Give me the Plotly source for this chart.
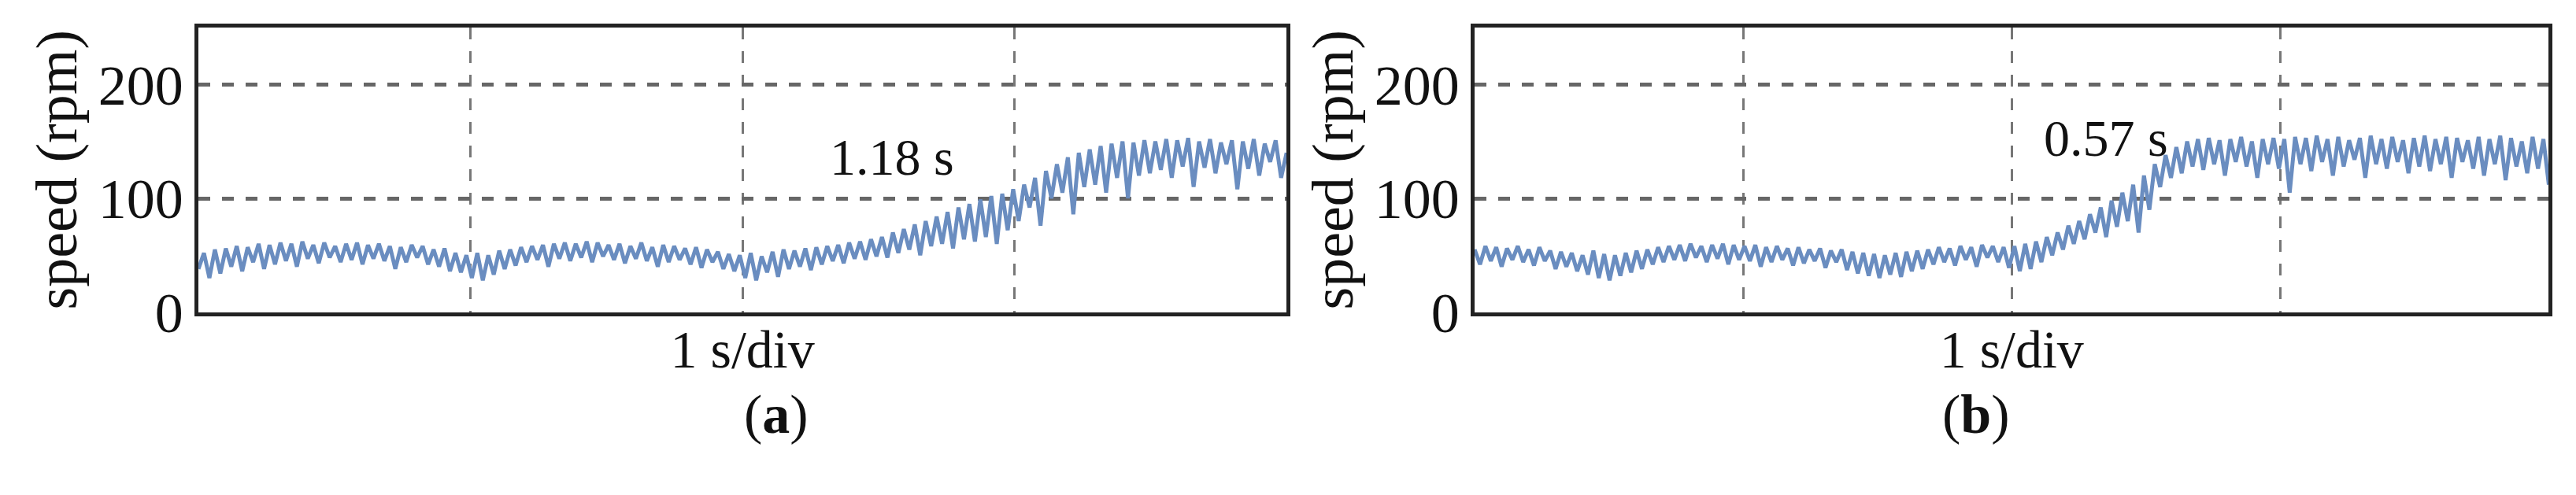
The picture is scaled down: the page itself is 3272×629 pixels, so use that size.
import numpy as np
import plotly.graph_objects as go

speed_a = [38,52,30,55,34,56,40,58,36,57,44,60,38,59,42,61,45,60,40,62,47,59,43,61,48,
 58,44,60,46,61,42,59,47,60,45,58,38,57,44,59,48,58,42,55,40,56,36,52,35,50,
 30,52,28,50,33,54,38,55,41,57,44,58,46,59,40,60,47,61,45,60,48,62,44,61,49,
 59,46,60,43,58,47,61,45,57,40,59,44,58,46,56,42,57,39,55,44,53,38,51,36,50,
 30,52,28,49,35,53,31,55,38,54,40,56,37,57,42,58,45,59,43,61,47,62,46,64,49,
 66,48,70,52,73,55,77,50,80,58,84,60,88,56,92,64,95,62,99,66,102,60,104,72,108,
 80,112,92,118,76,124,100,130,105,136,86,140,110,143,112,146,105,148,118,150,100,149,120,151,122,
 150,125,152,118,151,128,153,110,150,127,152,122,149,130,151,108,150,126,152,120,148,132,151,118,140]
speed_b = [55,42,58,45,57,40,56,46,58,44,55,41,57,45,54,38,53,40,52,36,50,33,54,30,51,
 28,50,32,52,35,54,38,55,42,57,44,58,46,59,45,60,48,58,44,59,47,60,42,59,46,
 58,45,59,40,57,44,58,46,56,41,57,43,55,45,56,39,54,44,55,37,53,34,52,32,51,
 30,50,33,52,31,53,36,54,38,55,42,57,44,56,41,58,46,57,40,59,48,58,44,57,39,
 58,36,60,38,62,44,66,50,70,55,76,60,80,64,86,70,92,66,98,75,105,80,112,70,120,
 90,130,110,138,118,145,122,150,128,152,125,153,130,151,120,152,132,154,128,150,118,152,130,153,126,
 152,105,154,130,153,124,155,132,152,120,154,128,151,134,153,118,155,130,152,126,154,132,151,122,153,
 128,155,124,152,130,154,118,153,132,151,126,154,120,152,130,155,116,153,128,150,122,154,126,152,112]
y_ticks = [0, 100, 200]
x_grid = [1, 2, 3]
labels = ["(a)", "(b)"]
notes = [("1.18 s", 2.55, 136), ("0.57 s", 2.35, 153)]

t = np.linspace(0, 4, len(speed_a))
FONT = "Liberation Serif"
fig = go.Figure()
doms = [(0.0746, 0.497), (0.570, 0.987)]
for i, s in enumerate([speed_a, speed_b]):
    n = "" if i == 0 else "2"
    fig.add_trace(go.Scatter(x=t, y=s, mode="lines", line=dict(color="#6a8dc0", width=5),
                             xaxis="x" + n, yaxis="y" + n, showlegend=False))
    ax = dict(domain=list(doms[i]), range=[0, 4], tickvals=x_grid, showticklabels=False,
              showgrid=True, gridcolor="#777", griddash="longdash", gridwidth=3,
              showline=True, linecolor="#222", linewidth=5, mirror=True, zeroline=False,
              ticks="", anchor="y" + n,
              title=dict(text="1 s/div", font=dict(family=FONT, size=68, color="#111"), standoff=20))
    ay = dict(domain=[0.339, 0.954], range=[0, 250], tickvals=y_ticks, showgrid=True,
              gridcolor="#666", griddash="dash", gridwidth=5, showline=True, linecolor="#222",
              linewidth=5, mirror=True, zeroline=False, ticks="", anchor="x" + n,
              tickfont=dict(family=FONT, size=72, color="#111"),
              title=dict(text="speed (rpm)", font=dict(family=FONT, size=74, color="#111"), standoff=4))
    fig.layout["xaxis" + n] = ax
    fig.layout["yaxis" + n] = ay
    txt, xx, yy = notes[i]
    fig.add_annotation(x=xx, y=yy, xref="x" + n, yref="y" + n, text=txt, showarrow=False,
                       font=dict(family=FONT, size=66, color="#111"))
    lab = labels[i]
    fig.add_annotation(x=sum(doms[i]) / 2, y=0.05, xref="paper", yref="paper",
                       text="(<b>" + lab[1] + "</b>)", showarrow=False,
                       font=dict(family=FONT, size=70, color="#111"))

fig.update_layout(width=3272, height=629, margin=dict(l=0, r=0, t=0, b=0),
                  paper_bgcolor="white", plot_bgcolor="white")
fig.write_html("out.html")
